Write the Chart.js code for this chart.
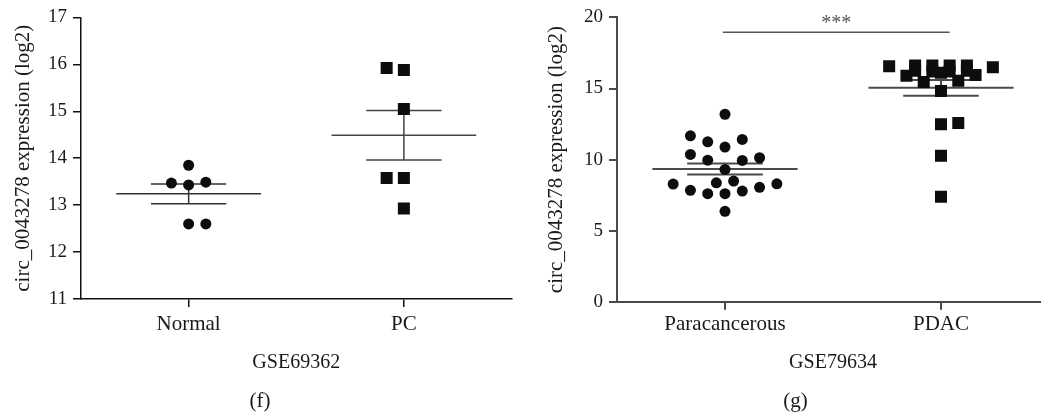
<!DOCTYPE html>
<html>
<head>
<meta charset="utf-8">
<script src="https://cdn.jsdelivr.net/npm/chart.js@4.4.1/dist/chart.umd.min.js"></script>
<style>
  html, body { margin: 0; padding: 0; background: #fff; overflow: hidden; }
  #chartF { position: absolute; left: 0; top: 0; }
  #chartG { position: absolute; left: 520px; top: 0; }
</style>
</head>
<body>
<canvas id="chartF" width="520" height="417"></canvas>
<canvas id="chartG" width="540" height="417"></canvas>
<script>
// ---- panel (f): GSE69362 ----
const fGroups = ['Normal', 'PC'];
const fNormal = [13.85, 13.47, 13.43, 13.49, 12.60, 12.60];
const fPC = [15.92, 15.88, 15.05, 13.58, 13.58, 12.93];
// column-scatter slot of each point (left/right of the group centre)
const fNormalSlot = [0, -1, 0, 1, 0, 1];
const fPCSlot = [-1, 0, 0, -1, 0, 0];
const fTicks = [11, 12, 13, 14, 15, 16, 17];

// ---- panel (g): GSE79634 ----
const gGroups = ['Paracancerous', 'PDAC'];
const gPara = [13.19, 11.67, 11.25, 11.42, 10.88, 10.36, 9.96, 9.94, 10.13, 9.31,
               8.28, 8.37, 8.49, 8.30, 7.84, 7.60, 7.60, 7.79, 8.05, 6.36];
const gParaSlot = [0, -2, -1, 1, 0, -2, -1, 1, 2, 0,
                   -3, -0.5, 0.5, 3, -2, -1, 0, 1, 2, 0];
const gPDAC = [16.56, 16.62, 16.62, 16.62, 16.62, 16.50, 15.90, 15.45, 16.10, 15.55,
               15.95, 16.25, 16.20, 16.20, 16.25, 14.83, 12.49, 12.58, 10.27, 7.39];
const gPDACSlot = [-3, -1.5, -0.5, 0.5, 1.5, 3, -2, -1, 0, 1,
                   2, -1.5, -0.5, 0.5, 1.5, 0, 0, 1, 0, 0];
const gTicks = [0, 5, 10, 15, 20];
const gSigLevel = 18.95;
const gSigLabel = '***';

const FONT = 'Liberation Serif';
const SPREAD = 0.08;

function mean(a) {
    return a.reduce((s, v) => s + v, 0) / a.length;
}
function sem(a) {
    const m = mean(a);
    const sd = Math.sqrt(a.reduce((s, v) => s + (v - m) * (v - m), 0) / (a.length - 1));
    return sd / Math.sqrt(a.length);
}

function pointsSet(values, slots, centre, style, radius) {
    return {
        data: values.map((v, i) => ({x: centre + slots[i] * SPREAD, y: v})),
        pointStyle: style,
        pointRadius: radius,
        backgroundColor: '#0d0d0d',
        borderWidth: 0,
        showLine: false,
        order: 0
    };
}

function segment(x1, y1, x2, y2, color, width) {
    return {
        data: [{x: x1, y: y1}, {x: x2, y: y2}],
        showLine: true,
        pointRadius: 0,
        borderColor: color,
        borderWidth: width,
        order: 1
    };
}

function errorSets(values, centre, color, width) {
    const m = mean(values), s = sem(values);
    return [
        segment(centre - 0.336, m, centre + 0.336, m, color, width),
        segment(centre - 0.175, m + s, centre + 0.175, m + s, color, width),
        segment(centre - 0.175, m - s, centre + 0.175, m - s, color, width),
        segment(centre, m - s, centre, m + s, color, width)
    ];
}

function makeChart(id, cfg) {
    const axisFont = {family: FONT, size: 21};
    return new Chart(document.getElementById(id), {
        type: 'scatter',
        data: {datasets: cfg.datasets},
        options: {
            responsive: false,
            animation: false,
            devicePixelRatio: 1,
            events: [],
            layout: {padding: cfg.padding},
            plugins: {
                legend: {display: false},
                tooltip: {enabled: false},
                title: {
                    display: true,
                    position: 'bottom',
                    text: cfg.panel,
                    color: '#1a1a1a',
                    font: {family: FONT, size: 21, weight: 'normal'},
                    padding: {top: 0, bottom: 3}
                }
            },
            scales: {
                x: {
                    type: 'linear', min: 0, max: 2,
                    afterBuildTicks: s => { s.ticks = cfg.groups.map((g, i) => ({value: i + 0.5})); },
                    ticks: {
                        callback: (v, i) => cfg.groups[i],
                        font: axisFont, color: '#1a1a1a',
                        padding: cfg.xPad, maxRotation: 0, autoSkip: false
                    },
                    grid: {display: true, drawOnChartArea: false, drawTicks: true, tickLength: 8,
                           color: cfg.axisColor, lineWidth: cfg.axisWidth},
                    border: {display: true, color: cfg.axisColor, width: cfg.axisWidth},
                    title: {display: true, text: cfg.dataset, color: '#1a1a1a',
                            font: {family: FONT, size: 20}, padding: {top: cfg.xTitlePad, bottom: 14}}
                },
                y: {
                    type: 'linear', min: cfg.ticks[0], max: cfg.ticks[cfg.ticks.length - 1],
                    afterBuildTicks: s => { s.ticks = cfg.ticks.map(v => ({value: v})); },
                    afterFit: s => { s.width = cfg.yWidth; },
                    ticks: {font: {family: FONT, size: 19}, color: '#1a1a1a', padding: 6},
                    grid: {display: true, drawOnChartArea: false, drawTicks: true, tickLength: 8,
                           color: cfg.axisColor, lineWidth: cfg.axisWidth},
                    border: {display: true, color: cfg.axisColor, width: cfg.axisWidth},
                    title: {display: true, text: 'circ_0043278 expression (log2)', color: '#1a1a1a',
                            font: {family: FONT, size: 21}, padding: {top: cfg.yTitlePad, bottom: 0}}
                }
            }
        },
        plugins: cfg.plugins || []
    });
}

makeChart('chartF', {
    groups: fGroups,
    ticks: fTicks,
    dataset: 'GSE69362',
    panel: '(f)',
    padding: {left: 7, right: 7, top: 15, bottom: 0},
    yWidth: 74,
    yTitlePad: 4,
    xPad: 5,
    xTitlePad: 8.6,
    axisColor: '#111',
    axisWidth: 1.5,
    datasets: [
        pointsSet(fNormal, fNormalSlot, 0.5, 'circle', 5.5),
        pointsSet(fPC, fPCSlot, 1.5, 'rect', 8.5),
        ...errorSets(fNormal, 0.5, '#333', 1.5),
        ...errorSets(fPC, 1.5, '#444', 1.5)
    ]
});

const sigStars = {
    id: 'sigStars',
    afterDatasetsDraw(chart) {
        const ctx = chart.ctx;
        const x = chart.scales.x.getPixelForValue(1.015);
        const y = chart.scales.y.getPixelForValue(gSigLevel);
        ctx.save();
        ctx.fillStyle = '#555';
        ctx.font = '20px "' + FONT + '"';
        ctx.textAlign = 'center';
        ctx.textBaseline = 'alphabetic';
        ctx.fillText(gSigLabel, x, y - 3.5);
        ctx.restore();
    }
};

makeChart('chartG', {
    groups: gGroups,
    ticks: gTicks,
    dataset: 'GSE79634',
    panel: '(g)',
    padding: {left: 22, right: 11, top: 17, bottom: 0},
    yWidth: 75,
    yTitlePad: 1.5,
    xPad: 2.5,
    xTitlePad: 10.8,
    axisColor: '#4a4a4a',
    axisWidth: 2,
    datasets: [
        pointsSet(gPara, gParaSlot, 0.5, 'circle', 5.5),
        pointsSet(gPDAC, gPDACSlot, 1.5, 'rect', 8.5),
        ...errorSets(gPara, 0.5, '#4a4a4a', 2),
        ...errorSets(gPDAC, 1.5, '#4a4a4a', 2),
        segment(0.49, gSigLevel, 1.54, gSigLevel, '#555', 1.5)
    ],
    plugins: [sigStars]
});
</script>
</body>
</html>
